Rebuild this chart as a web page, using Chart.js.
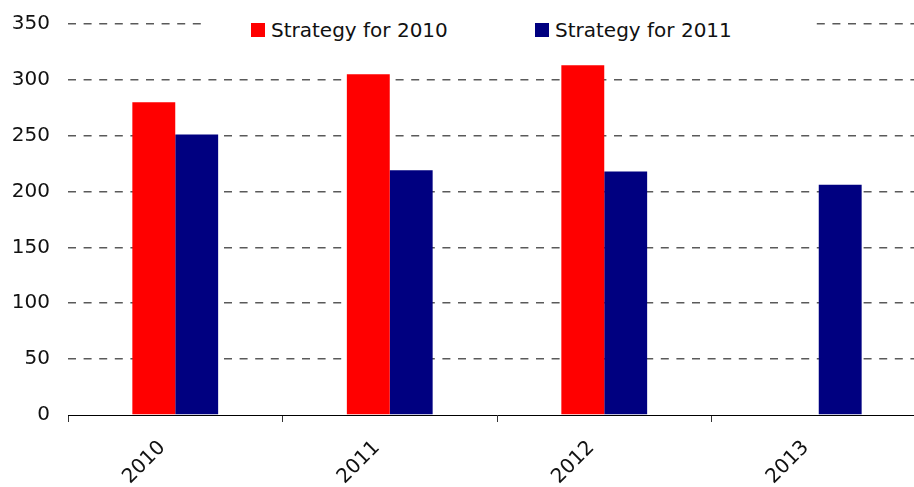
<!DOCTYPE html>
<html lang="en">
<head>
<meta charset="UTF-8">
<title>Strategy for 2010 vs 2011</title>
<script src="https://cdn.jsdelivr.net/npm/chart.js"></script>
<style>
  body {
    margin: 0;
    padding: 0;
    background: #fff;
    overflow: hidden;
    font-family: "DejaVu Sans", Verdana, sans-serif;
  }
  .wrap {
    position: relative;
    width: 926px;
    height: 487px;
  }
  /* leyenda encima del area del grafico, con fondo blanco que tapa la rejilla */
  .legend {
    position: absolute;
    left: 205px;
    top: 12px;
    width: 610px;
    height: 34px;
    background: #fff;
  }
  .item {
    position: absolute;
    top: 10px;
    height: 15px;
    display: flex;
    align-items: center;
    font-size: 20px;
    color: #111;
    white-space: nowrap;
  }
  .item .sq {
    width: 14px;
    height: 14px;
    margin-right: 6px;
    flex: none;
  }
</style>
</head>
<body>
<div class="wrap">
  <canvas id="chart" width="926" height="487"></canvas>
  <div class="legend">
    <div class="item" style="left:46px"><span class="sq" style="background:#ff0000"></span>Strategy for 2010</div>
    <div class="item" style="left:330px"><span class="sq" style="background:#000080"></span>Strategy for 2011</div>
  </div>
</div>

<script>
  // datos
  var years = ['2010', '2011', '2012', '2013'];
  var strategy2010 = [280, 305, 313, null];
  var strategy2011 = [251, 219, 218, 206];
  var yMax = 350;
  var yStep = 50;

  var ctx = document.getElementById('chart').getContext('2d');

  var chart = new Chart(ctx, {
    type: 'bar',
    data: {
      labels: years,
      datasets: [{
        label: 'Strategy for 2010',
        data: strategy2010,
        backgroundColor: '#ff0000',
        barPercentage: 1,
        categoryPercentage: 0.4
      }, {
        label: 'Strategy for 2011',
        data: strategy2011,
        backgroundColor: '#000080',
        barPercentage: 1,
        categoryPercentage: 0.4
      }]
    },
    options: {
      responsive: false,
      animation: false,
      layout: { padding: { top: 24, left: 0, right: 0, bottom: 0 } },
      plugins: {
        legend: { display: false },
        tooltip: { enabled: false }
      },
      scales: {
        x: {
          grid: {
            offset: true,
            drawOnChartArea: false,
            tickLength: 7,
            color: '#333'
          },
          border: { color: '#000', width: 1 },
          ticks: {
            minRotation: 45,
            maxRotation: 45,
            color: '#111',
            font: { family: 'DejaVu Sans', size: 20 },
            padding: 14,
            labelOffset: -13
          },
          afterFit: function (s) { s.height = 72; s.paddingLeft = 0; s.paddingRight = 0; }
        },
        y: {
          min: 0,
          max: yMax,
          grid: {
            drawTicks: false,
            lineWidth: 1.6,
            color: function (c) { return c.tick && c.tick.value === 0 ? 'rgba(0,0,0,0)' : '#5a5a5a'; }
          },
          border: { display: false, dash: [8, 7.6] },
          ticks: {
            stepSize: yStep,
            padding: 18,
            color: '#111',
            font: { family: 'DejaVu Sans', size: 20 }
          },
          afterFit: function (s) { s.width = 68; s.paddingTop = 0; s.paddingBottom = 0; }
        }
      }
    }
  });
</script>
</body>
</html>
